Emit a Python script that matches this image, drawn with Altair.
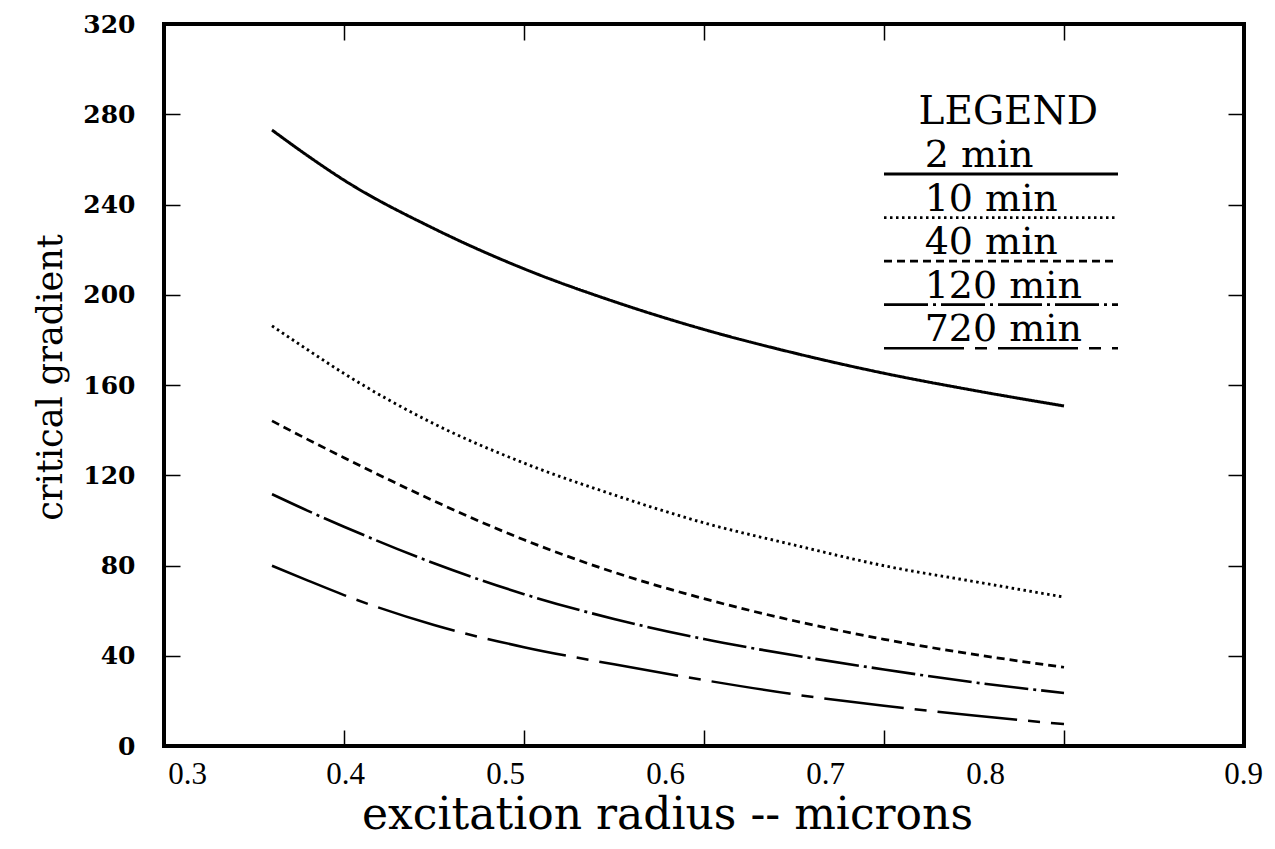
import altair as alt
import pandas as pd

# ---- data ----
radius = [0.36, 0.38, 0.40, 0.45, 0.50, 0.55, 0.60, 0.65, 0.70, 0.75, 0.80]
series_names = ["2 min", "10 min", "40 min", "120 min", "720 min"]
grad_2min = [273, 261.5, 250.8, 229.3, 211.5, 197, 184.6, 174.2, 165.2, 157.6, 150.7]
grad_10min = [186.2, 175.5, 165.1, 142.8, 125.4, 111.3, 98.9, 89.1, 79.9, 72.9, 66]
grad_40min = [144.1, 135.8, 127.8, 108.6, 91.4, 77, 65.3, 55.5, 47.3, 40.6, 34.9]
grad_120min = [111.6, 104.2, 97.2, 81, 67.3, 56.3, 47.4, 40.2, 33.9, 28.2, 23.5]
grad_720min = [79.9, 73.3, 66.9, 53.6, 43.8, 36.2, 29.2, 22.9, 17.8, 13.5, 9.7]
x_ticks = [0.3, 0.4, 0.5, 0.6, 0.7, 0.8, 0.9]
y_ticks = [0, 40, 80, 120, 160, 200, 240, 280, 320]

all_series = [grad_2min, grad_10min, grad_40min, grad_120min, grad_720min]
rows = []
for name, vals in zip(series_names, all_series):
    for r, v in zip(radius, vals):
        rows.append({"series": name, "radius": r, "gradient": v})
df = pd.DataFrame(rows)

# ---- legend layout (drawn inside the plot) ----
LEG_X0, LEG_X1, LEG_TX = 0.70, 0.83, 0.7226
LEG_TOP, LEG_STEP = 253.5, 19.3
leg_df = pd.DataFrame({
    "series": series_names,
    "x0": [LEG_X0] * 5,
    "x1": [LEG_X1] * 5,
    "tx": [LEG_TX] * 5,
    "ly": [LEG_TOP - i * LEG_STEP for i in range(5)],
})
head_df = pd.DataFrame({"x": [0.769], "y": [275.5], "t": ["LEGEND"]})

x_scale = alt.Scale(domain=[0.3, 0.9], nice=False, zero=False)
y_scale = alt.Scale(domain=[0, 320], nice=False, zero=False)
dash_scale = alt.Scale(domain=series_names,
                       range=[[1, 0], [2.5, 3.5], [8, 5], [44, 5, 3, 5], [80, 11, 12, 11]])
width_scale = alt.Scale(domain=series_names, range=[3, 2.5, 3, 3, 3])

label_offset_expr = ("datum.value < 0.35 ? 23 : datum.value < 0.45 ? 1 : "
                     "datum.value < 0.55 ? -19 : datum.value < 0.65 ? -39 : "
                     "datum.value < 0.75 ? -59 : datum.value < 0.85 ? -79 : -1")

lines = alt.Chart(df).mark_line(color="black", interpolate="monotone", strokeCap="butt").encode(
    x=alt.X("radius:Q", scale=x_scale, axis=alt.Axis(
        orient="bottom", values=x_ticks, format=".1f", ticks=False, tickSize=0, domain=False, grid=False,
        labelFont="Liberation Serif", labelFontSize=31, labelColor="black", labelPadding=13,
        labelFlush=False, labelOverlap=False, labelOffset=alt.ExprRef(expr=label_offset_expr),
        title="excitation radius -- microns", titleFont="DejaVu Serif", titleFontSize=44,
        titleFontWeight="normal", titleColor="black", titleX=503, titleY=82,
        titleBaseline="alphabetic", titleAlign="center")),
    y=alt.Y("gradient:Q", scale=y_scale, axis=alt.Axis(
        orient="left", values=y_ticks, ticks=False, tickSize=0, domain=False, grid=False,
        labelFont="DejaVu Serif", labelFontSize=25, labelFontWeight="bold", labelColor="black",
        labelPadding=29, labelOverlap=False,
        title="critical gradient", titleFont="DejaVu Serif", titleFontSize=35,
        titleFontWeight="normal", titleColor="black", titleX=-114, titleY=353,
        titleAngle=270, titleBaseline="middle", titleAlign="center")),
    strokeDash=alt.StrokeDash("series:N", scale=dash_scale, legend=None),
    strokeWidth=alt.StrokeWidth("series:N", scale=width_scale, legend=None),
)

ticks_bl = alt.Chart(df).mark_point(opacity=0).encode(
    x=alt.X("radius:Q", scale=x_scale, axis=alt.Axis(
        orient="bottom", offset=-16, tickSize=16, tickWidth=1.5, tickColor="black",
        labels=False, domain=False, grid=False, title=None, values=x_ticks)),
    y=alt.Y("gradient:Q", scale=y_scale, axis=alt.Axis(
        orient="left", offset=-16, tickSize=16, tickWidth=1.5, tickColor="black",
        labels=False, domain=False, grid=False, title=None, values=y_ticks)),
)

ticks_tr = alt.Chart(df).mark_point(opacity=0).encode(
    x=alt.X("radius:Q", scale=x_scale, axis=alt.Axis(
        orient="top", offset=-16, tickSize=16, tickWidth=1.5, tickColor="black",
        labels=False, domain=False, grid=False, title=None, values=x_ticks)),
    y=alt.Y("gradient:Q", scale=y_scale, axis=alt.Axis(
        orient="right", offset=-16, tickSize=16, tickWidth=1.5, tickColor="black",
        labels=False, domain=False, grid=False, title=None, values=y_ticks)),
)

leg_rules = alt.Chart(leg_df).mark_rule(color="black", strokeCap="butt").encode(
    x=alt.X("x0:Q", scale=x_scale, axis=None),
    x2="x1:Q",
    y=alt.Y("ly:Q", scale=y_scale, axis=None),
    strokeDash=alt.StrokeDash("series:N", scale=dash_scale, legend=None),
    strokeWidth=alt.StrokeWidth("series:N", scale=width_scale, legend=None),
)

leg_text = alt.Chart(leg_df).mark_text(
    align="left", baseline="alphabetic", dy=-7, font="DejaVu Serif", fontSize=38, color="black"
).encode(
    x=alt.X("tx:Q", scale=x_scale, axis=None),
    y=alt.Y("ly:Q", scale=y_scale, axis=None),
    text="series:N",
)

leg_head = alt.Chart(head_df).mark_text(
    align="center", baseline="alphabetic", font="DejaVu Serif", fontSize=39, color="black"
).encode(
    x=alt.X("x:Q", scale=x_scale, axis=None),
    y=alt.Y("y:Q", scale=y_scale, axis=None),
    text="t:N",
)

chart = alt.layer(lines, ticks_bl, ticks_tr, leg_rules, leg_text, leg_head).resolve_axis(
    x="independent", y="independent"
).properties(
    width=1080, height=722,
    autosize=alt.AutoSizeParams(type="none"),
    padding={"left": 156, "top": 16, "right": 20, "bottom": 95},
    background="white",
).configure_view(stroke="black", strokeWidth=4)

chart.save("out.html", embed_options={"renderer": "svg", "actions": False})
